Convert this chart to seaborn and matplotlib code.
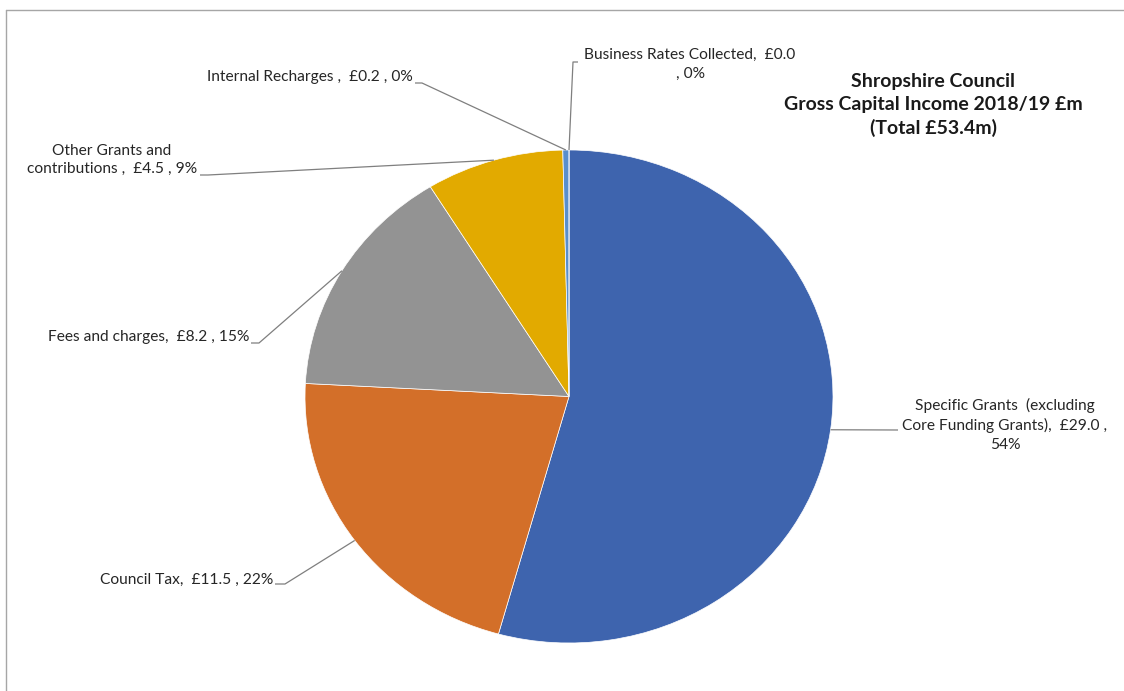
import matplotlib
matplotlib.use("Agg")
import matplotlib.pyplot as plt
from matplotlib.lines import Line2D
import seaborn as sns
import numpy as np

# ---- data ----
categories = ["Specific Grants (excluding Core Funding Grants)", "Council Tax",
              "Fees and charges", "Other Grants and contributions",
              "Internal Recharges", "Business Rates Collected"]
values = [29.0, 11.5, 8.2, 4.5, 0.2, 0.0]
label_texts = [
    "Specific Grants  (excluding\nCore Funding Grants),  £29.0 ,\n54%",
    "Council Tax,  £11.5 , 22%",
    "Fees and charges,  £8.2 , 15%",
    "Other Grants and\ncontributions ,  £4.5 , 9%",
    "Internal Recharges ,  £0.2 , 0%",
    "Business Rates Collected,  £0.0\n, 0%",
]
title_text = "Shropshire Council\nGross Capital Income 2018/19 £m\n(Total £53.4m)"

# ---- style ----
colors = ["#3E64AE", "#D36F29", "#939393", "#E2AA00", "#5A8FCB", "#6FA544"]
sns.set_theme(style="white")
plt.rcParams["font.family"] = ["Lato", "DejaVu Sans"]
palette = sns.color_palette(colors)

W, H = 1124, 691
CX, CY = 569, 396.5
RX, RY = 264, 246.5
FS = 11.2

def to_data(px, py):
    return (px - CX) / RX, (CY - py) / RY

fig = plt.figure(figsize=(W / 100, H / 100), dpi=100)
fig.patch.set_facecolor("white")
ax = fig.add_axes([0, 0, 1, 1])
wedges, _ = ax.pie(values, colors=palette, startangle=90, counterclock=False,
                   radius=1, wedgeprops=dict(edgecolor="white", linewidth=0.5))
ax.set_aspect("auto")
ax.set_xlim(-CX / RX, (W - CX) / RX)
ax.set_ylim(-(H - CY) / RY, CY / RY)
ax.axis("off")

# label placement in pixels: (text x, text y, ha, line start at text, elbow)
layout = [
    (1005, 425, "center", (898, 430), (898, 430)),
    (273, 580, "right", (275, 584), (285, 584)),
    (249, 337, "right", (251, 343), (259, 343)),
    (112, 160, "center", (200, 175), (208, 175)),
    (413, 77, "right", (415, 83), (422, 83)),
    (690, 64.5, "center", (578, 62), (573, 62)),
]

for w, txt, (tx, ty, ha, p0, p1) in zip(wedges, label_texts, layout):
    fig.text(tx / W, 1 - ty / H, txt, ha=ha, va="center", multialignment="center",
             fontsize=FS, color="#262626", linespacing=1.42)
    mid = np.deg2rad((w.theta1 + w.theta2) / 2)
    ex, ey = np.cos(mid), np.sin(mid)
    a = to_data(*p0)
    b = to_data(*p1)
    ax.plot([a[0], b[0], ex], [a[1], b[1], ey], color="#7F7F7F", lw=0.9,
            solid_capstyle="butt", zorder=5)

fig.text(933 / W, 1 - 105 / H, title_text, ha="center", va="center",
         multialignment="center", fontsize=14, fontweight="bold",
         color="#1a1a1a", linespacing=1.38)

# outer frame (partially visible chart border)
fig.add_artist(Line2D([5.5 / W, 1], [1 - 10 / H, 1 - 10 / H],
                      transform=fig.transFigure, color="#A6A6A6", lw=1))
fig.add_artist(Line2D([5.5 / W, 5.5 / W], [0, 1 - 10 / H],
                      transform=fig.transFigure, color="#A6A6A6", lw=1))

fig.savefig("out.png", dpi=100, facecolor="white")
